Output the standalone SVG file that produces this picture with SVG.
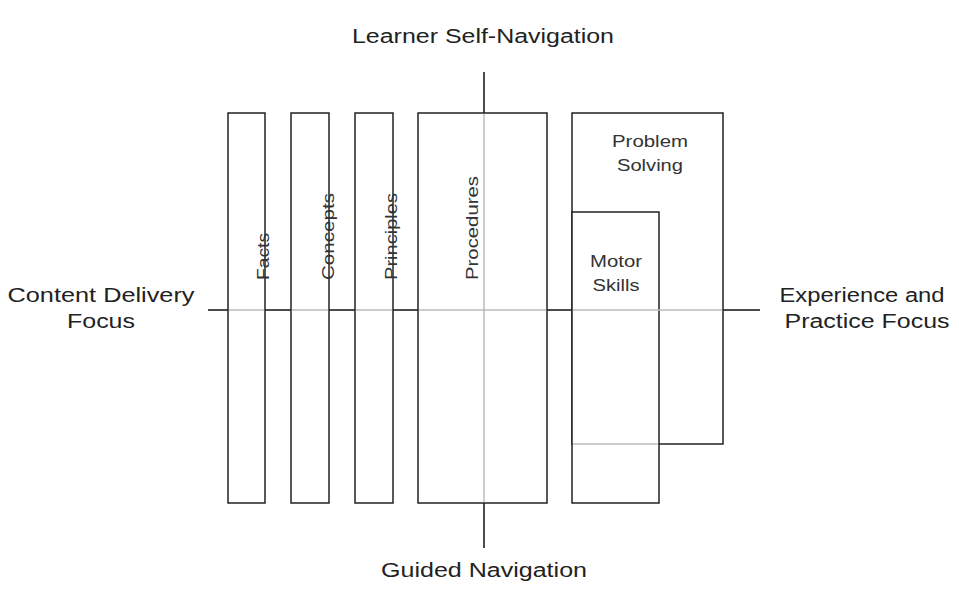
<svg xmlns="http://www.w3.org/2000/svg" width="959" height="616" viewBox="0 0 959 616">
<style>
.b{fill:#fff;stroke:#222;stroke-width:1.5}
.ax{stroke:#111;stroke-width:1.5}
.g{stroke:#bbb;stroke-width:1.5}
text{font-family:"Liberation Sans",Arial,sans-serif;fill:#222}
.l{font-size:20px;text-anchor:middle}
.s{font-size:16px;text-anchor:middle;fill:#333}
.r{font-size:16px;fill:#333}
</style>
<rect width="959" height="616" fill="#fff"/>
<g id="axes">
<line class="ax" x1="208" y1="310" x2="760" y2="310"/>
<line class="ax" x1="484" y1="72" x2="484" y2="548"/>
</g>
<g id="facts"><rect class="b" x="228" y="113" width="37" height="390"/><text class="r" transform="translate(269,280) rotate(-90)" textLength="47" lengthAdjust="spacingAndGlyphs">Facts</text></g>
<g id="concepts"><rect class="b" x="291" y="113" width="38" height="390"/><text class="r" transform="translate(334,280) rotate(-90)" textLength="87" lengthAdjust="spacingAndGlyphs">Concepts</text></g>
<g id="principles"><rect class="b" x="355" y="113" width="38" height="390"/><text class="r" transform="translate(397,280) rotate(-90)" textLength="87" lengthAdjust="spacingAndGlyphs">Principles</text></g>
<g id="procedures"><rect class="b" x="418" y="113" width="129" height="390"/><text class="r" transform="translate(478,280) rotate(-90)" textLength="104" lengthAdjust="spacingAndGlyphs">Procedures</text></g>
<g id="problem"><rect class="b" x="572" y="113" width="151" height="331"/><text class="s" x="650" y="147" textLength="76" lengthAdjust="spacingAndGlyphs">Problem</text><text class="s" x="650" y="171" textLength="66" lengthAdjust="spacingAndGlyphs">Solving</text></g>
<g id="motor"><rect class="b" x="572" y="212" width="87" height="291"/><text class="s" x="616" y="267" textLength="52" lengthAdjust="spacingAndGlyphs">Motor</text><text class="s" x="616" y="291" textLength="47" lengthAdjust="spacingAndGlyphs">Skills</text></g>
<g id="connectors">
<line class="g" x1="229" y1="310" x2="264" y2="310"/>
<line class="g" x1="292" y1="310" x2="328" y2="310"/>
<line class="g" x1="356" y1="310" x2="392" y2="310"/>
<line class="g" x1="419" y1="310" x2="546" y2="310"/>
<line class="g" x1="573" y1="310" x2="722" y2="310"/>
<line class="g" x1="484" y1="114" x2="484" y2="502"/>
<line class="g" x1="573" y1="444" x2="658" y2="444"/>
</g>
<g id="labels">
<text class="l" x="483" y="43" textLength="262" lengthAdjust="spacingAndGlyphs">Learner Self-Navigation</text>
<text class="l" x="484" y="577" textLength="206" lengthAdjust="spacingAndGlyphs">Guided Navigation</text>
<text class="l" x="101" y="302" textLength="187" lengthAdjust="spacingAndGlyphs">Content Delivery</text>
<text class="l" x="101" y="328" textLength="68" lengthAdjust="spacingAndGlyphs">Focus</text>
<text class="l" x="862" y="302" textLength="165" lengthAdjust="spacingAndGlyphs">Experience and</text>
<text class="l" x="867" y="328" textLength="165" lengthAdjust="spacingAndGlyphs">Practice Focus</text>
</g>
</svg>
